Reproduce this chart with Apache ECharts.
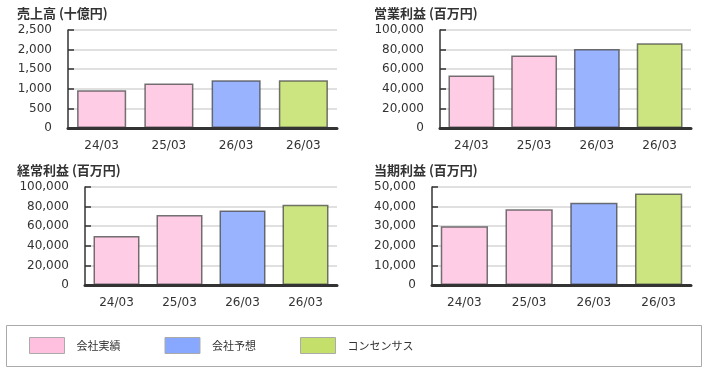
<!DOCTYPE html>
<html><head><meta charset="utf-8">
<script src="https://cdn.jsdelivr.net/npm/echarts@6/dist/echarts.min.js"></script>
<style>html,body{margin:0;padding:0;background:#fff}#c{width:706px;height:371px}</style>
</head><body><div id="c"></div>
<script>
const categories = ['24/03', '25/03', '26/03', '26/03'];
const seriesNames = ['会社実績', '会社予想', 'コンセンサス'];
// which legend group each category slot belongs to
const slotGroup = [0, 0, 1, 2];
const titles = ['売上高 (十億円)', '営業利益 (百万円)', '経常利益 (百万円)', '当期利益 (百万円)'];
const sales = [965, 1135, 1220, 1220];
const operatingProfit = [53500, 74000, 80500, 86500];
const ordinaryProfit = [50000, 71500, 76000, 82000];
const netProfit = [30000, 38700, 42000, 46700];
const yMax = [2500, 100000, 100000, 50000];
const yStep = [500, 20000, 20000, 10000];

const panels = [sales, operatingProfit, ordinaryProfit, netProfit];
const barColors = ['#ffcce6', '#99b3ff', '#cce580'];
const legendColors = ['#ffc0e0', '#88a8ff', '#c5e06a'];
const grids = [
  {left: 68, top: 30, width: 269, height: 98},
  {left: 440, top: 30, width: 251, height: 98},
  {left: 85, top: 187, width: 252, height: 98},
  {left: 432, top: 187, width: 259, height: 98}
];
const titlePos = [[17, 7], [374, 7], [17, 164], [374, 164]];
const font = 'DejaVu Sans';

const option = {
  animation: false,
  backgroundColor: '#fff',
  title: titles.map((t, i) => ({
    text: t, left: titlePos[i][0], top: titlePos[i][1], padding: 0,
    textStyle: {fontSize: 13, fontWeight: 'bold', color: '#333', fontFamily: 'Noto Sans CJK JP'}
  })),
  grid: grids,
  xAxis: grids.map((g, i) => ({
    type: 'category', gridIndex: i, data: categories, z: 5,
    axisLine: {lineStyle: {color: '#333', width: 3}},
    axisTick: {show: false},
    axisLabel: {color: '#333', fontSize: 12, fontFamily: font, margin: 12}
  })),
  yAxis: grids.map((g, i) => ({
    type: 'value', gridIndex: i, min: 0, max: yMax[i], interval: yStep[i],
    axisLine: {show: true, lineStyle: {color: '#333', width: 1.5}},
    axisTick: {show: true, inside: true, length: 6, lineStyle: {color: '#333', width: 1.5}},
    axisLabel: {color: '#333', fontSize: 12, fontFamily: font, margin: 16,
      formatter: v => v.toLocaleString('en-US')},
    splitLine: {lineStyle: {color: '#d6d6d6', width: 1.5}}
  })),
  legend: {
    left: 29, top: 337, itemWidth: 35, itemHeight: 16, itemGap: 44, padding: 0,
    selectedMode: false,
    data: seriesNames.map((n, k) => ({name: n, icon: 'rect',
      itemStyle: {color: legendColors[k], borderColor: '#aaa', borderWidth: 1}})),
    textStyle: {fontSize: 11, color: '#333', fontFamily: 'Noto Sans CJK JP', padding: [0, 0, 0, 7]}
  },
  graphic: [{
    type: 'rect', left: 6, top: 325, z: -1,
    shape: {width: 695, height: 41},
    style: {fill: '#fff', stroke: '#aaa', lineWidth: 1}
  }],
  series: []
};

panels.forEach((vals, i) => {
  seriesNames.forEach((name, k) => {
    option.series.push({
      type: 'bar', name: name, xAxisIndex: i, yAxisIndex: i, stack: 'p' + i,
      barCategoryGap: '27%',
      data: vals.map((v, j) => slotGroup[j] === k ? v : '-'),
      itemStyle: {color: barColors[k], borderColor: 'rgba(70,70,70,0.75)', borderWidth: 1.5}
    });
  });
});

echarts.init(document.getElementById('c'), null, {renderer: 'canvas'}).setOption(option);
</script>
</body></html>
